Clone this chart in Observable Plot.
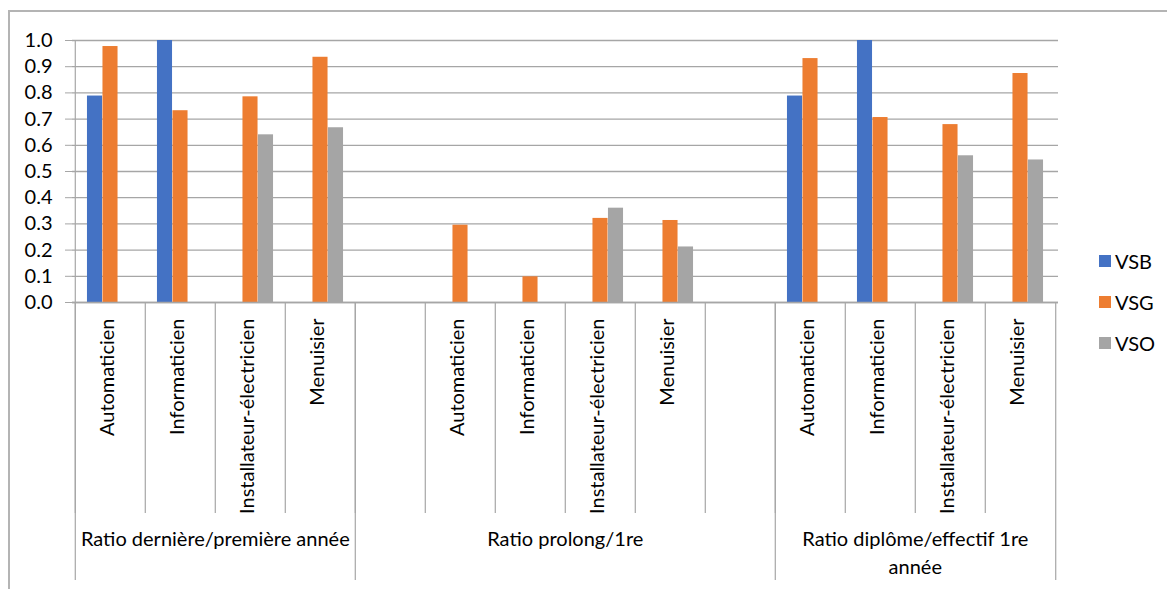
<!DOCTYPE html>
<html>
<head>
<meta charset="utf-8">
<script src="https://cdn.jsdelivr.net/npm/d3@7"></script>
<script src="https://cdn.jsdelivr.net/npm/@observablehq/plot@0.6"></script>
<style>
  html, body { margin: 0; padding: 0; background: #fff; }
  #wrap { position: relative; width: 1167px; height: 589px; overflow: hidden; font-family: Lato, "Open Sans", sans-serif; }
  #frame { position: absolute; left: 8px; top: 10px; width: 1200px; height: 620px;
           border-top: 2px solid #b4b4b4; border-left: 2px solid #b4b4b4; }
  #chart { position: absolute; left: 0; top: 0; }
  #legend { position: absolute; left: 1099px; top: 249px; }
  .item { display: flex; align-items: center; height: 24px; margin-bottom: 17px; font-size: 20px; color: #000; }
  .sw { width: 12px; height: 12px; margin-right: 4px; }
</style>
</head>
<body>
<div id="wrap">
  <div id="frame"></div>
  <div id="chart"></div>
  <div id="legend"></div>
</div>
<script>
// Category levels
const groups = ["Ratio dernière/première année", "Ratio prolong/1re", "Ratio diplôme/effectif 1re\nannée"];
const professions = ["Automaticien", "Informaticien", "Installateur-électricien", "Menuisier"];
// empty slots placed on each side of a group
const groupGaps = [0, 1, 0];

// Series (one value per group × profession, null where no bar)
const seriesNames = ["VSB", "VSG", "VSO"];
const seriesColors = ["#4472c4", "#ed7d31", "#a5a5a5"];
const vsb = [0.788, 1.000, null, null,   null, null, null, null,   0.788, 1.000, null, null];
const vsg = [0.977, 0.732, 0.785, 0.936, 0.295, 0.098, 0.321, 0.313, 0.931, 0.706, 0.679, 0.874];
const vso = [null, null, 0.640, 0.667,   null, null, 0.360, 0.212,   null, null, 0.560, 0.544];
const seriesValues = [vsb, vsg, vso];

const yTicks = [0, 0.1, 0.2, 0.3, 0.4, 0.5, 0.6, 0.7, 0.8, 0.9, 1.0];

// Build the slot list (one band per profession, plus spacer bands)
const slots = [];
const groupStarts = [];
groups.forEach((g, gi) => {
  groupStarts.push(slots.length);
  for (let k = 0; k < groupGaps[gi]; k++) slots.push({id: `${gi}|gap-a${k}`, label: ""});
  professions.forEach(p => slots.push({id: `${gi}|${p}`, label: p}));
  for (let k = 0; k < groupGaps[gi]; k++) slots.push({id: `${gi}|gap-b${k}`, label: ""});
});
const slotIds = slots.map(s => s.id);
const slotLabel = new Map(slots.map(s => [s.id, s.label]));

const rows = [];
seriesNames.forEach((s, si) => {
  groups.forEach((g, gi) => {
    professions.forEach((p, pi) => {
      const v = seriesValues[si][gi * professions.length + pi];
      if (v != null) rows.push({slot: `${gi}|${p}`, series: s, value: v});
    });
  });
});

// Group label anchors: the band at each group's middle boundary
const groupLabels = groups.map((g, gi) => {
  const start = groupStarts[gi];
  const end = gi + 1 < groups.length ? groupStarts[gi + 1] : slots.length;
  return {slot: slotIds[(start + end) / 2], label: g};
});

const W = 1167, H = 589;
const mL = 72, mR = 109, mT = 40, mB = 287;
const bw = (W - mL - mR) / slotIds.length;
const barW = 15.5;
const frameH = H - mT - mB;
const grid = "#a6a6a6";
const fs = 20;

const bars = seriesNames.map((s, si) =>
  Plot.barY(rows.filter(d => d.series === s), {
    x: "slot", y: "value", fill: seriesColors[si],
    dx: (si - 1) * barW,
    insetLeft: (bw - barW) / 2, insetRight: (bw - barW) / 2
  })
);

const chart = Plot.plot({
  width: W, height: H,
  marginLeft: mL, marginRight: mR, marginTop: mT, marginBottom: mB,
  style: {fontFamily: "Lato, 'Open Sans', sans-serif", fontSize: fs + "px", color: "#000", background: "transparent", overflow: "visible"},
  x: {type: "band", domain: slotIds, padding: 0, axis: null},
  y: {domain: [0, 1], axis: null},
  marks: [
    Plot.ruleY(yTicks, {stroke: grid, strokeWidth: 1.3}),
    Plot.axisY({ticks: yTicks, tickFormat: ".1f", tickSize: 7, tickPadding: 13, stroke: grid, fontSize: fs, fill: "#000", label: null}),
    ...bars,
    // category separators under the axis
    Plot.ruleX(slotIds, {x: d => d, dx: -bw / 2, stroke: grid, strokeWidth: 1.2, insetTop: frameH, insetBottom: -211}),
    Plot.ruleX([slotIds[slotIds.length - 1]], {x: d => d, dx: bw / 2, stroke: grid, strokeWidth: 1.2, insetTop: frameH, insetBottom: -278}),
    // group separators (the first one also serves as the y axis line)
    Plot.ruleX([slotIds[0]], {x: d => d, dx: -bw / 2, stroke: grid, strokeWidth: 1.2, insetBottom: -278}),
    Plot.ruleX(groupStarts.slice(1).map(i => slotIds[i]), {x: d => d, dx: -bw / 2, stroke: grid, strokeWidth: 1.2, insetTop: frameH, insetBottom: -278}),
    Plot.ruleY([0], {stroke: grid, strokeWidth: 1.5}),
    // category labels
    Plot.axisX({tickSize: 0, tickPadding: 16, tickRotate: -90, dx: -3, tickFormat: d => slotLabel.get(d), fontSize: fs, fill: "#000", label: null}),
    // group labels
    Plot.text(groupLabels, {x: "slot", y: 0, dx: -bw / 2, dy: 224, text: "label", lineAnchor: "top", lineHeight: 1.4, fontSize: fs, fill: "#000"})
  ]
});
document.getElementById("chart").appendChild(chart);

// Legend on the right
const legend = d3.select("#legend");
seriesNames.forEach((s, i) => {
  const it = legend.append("div").attr("class", "item");
  it.append("div").attr("class", "sw").style("background", seriesColors[i]);
  it.append("span").text(s);
});
</script>
</body>
</html>
